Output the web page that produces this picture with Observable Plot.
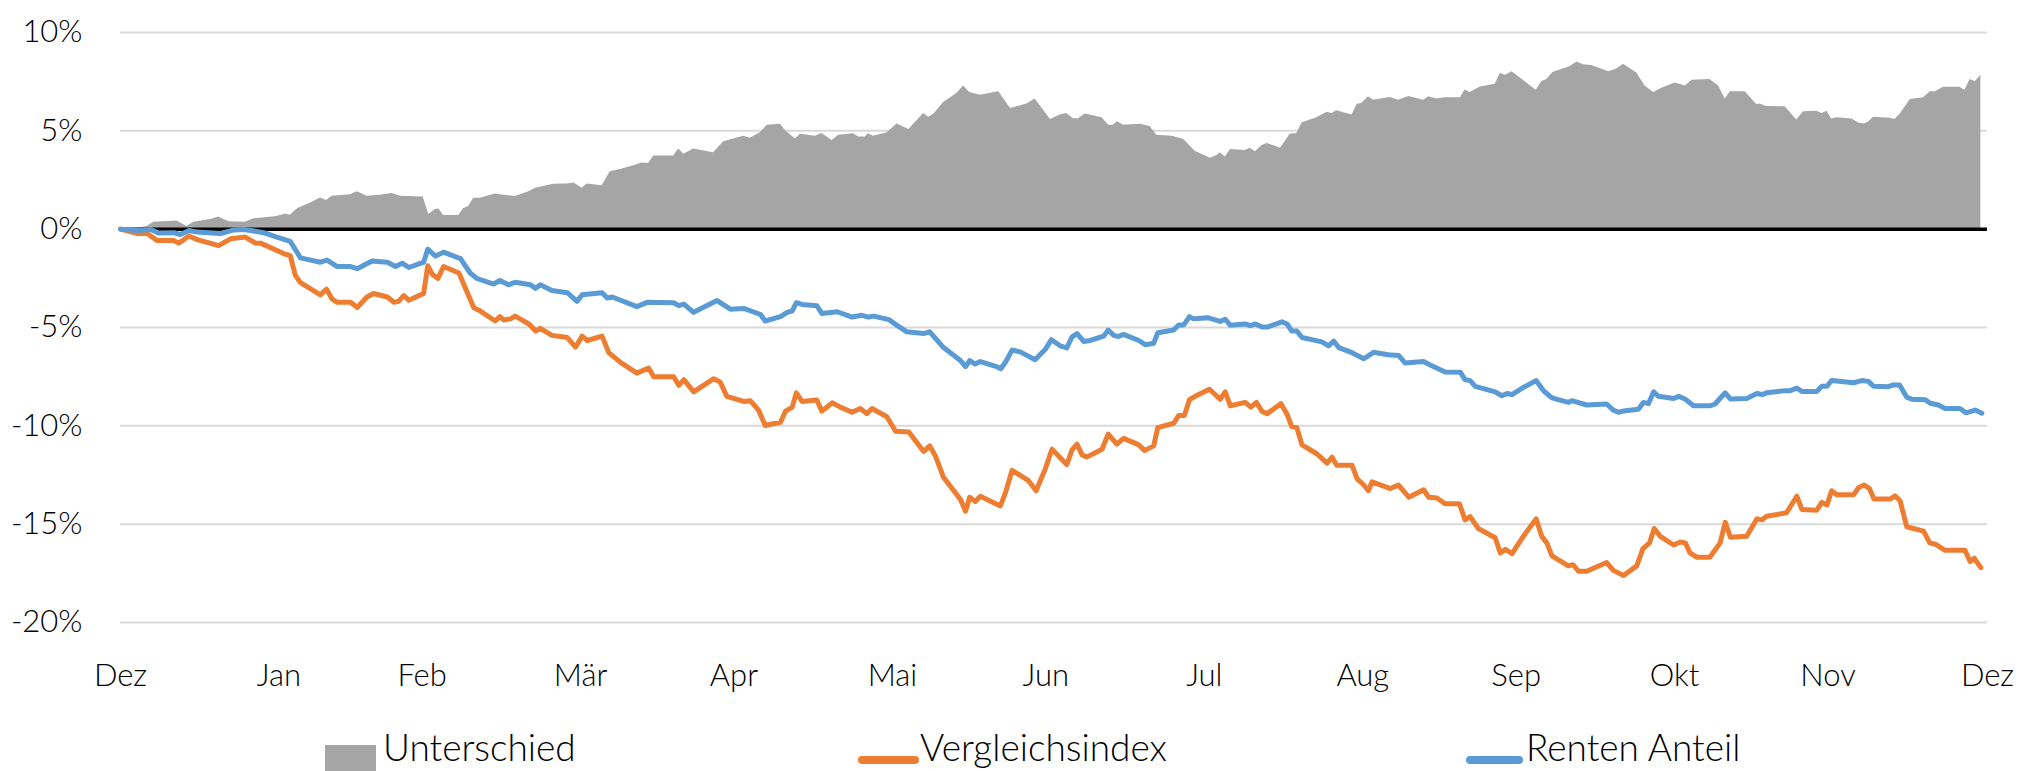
<!DOCTYPE html>
<html>
<head>
<meta charset="utf-8">
<script src="https://cdn.jsdelivr.net/npm/d3@7"></script>
<script src="https://cdn.jsdelivr.net/npm/@observablehq/plot@0.6"></script>
<style>
  html, body { margin: 0; padding: 0; background: #fff; overflow: hidden; }
  #chart svg { display: block; }
  #legend { display: block; }
</style>
</head>
<body>
<div id="chart"></div>
<svg id="legend" width="2018" height="71"></svg>
<script>
// x = days since 1 Dec 2021, y = percent
const yTicks = [-20, -15, -10, -5, 0, 5, 10];
const monthLabels = ["Dez","Jan","Feb","Mär","Apr","Mai","Jun","Jul","Aug","Sep","Okt","Nov","Dez"];
const monthPos = [0, 31, 59, 90, 120, 151, 181, 212, 243, 273, 304, 334, 365.2];
const seriesNames = ["Unterschied", "Vergleichsindex", "Renten Anteil"];

const unterschied = [[0,0],[3.3,0.05],[5.2,0.13],[6.5,0.35],[11.1,0.42],[13.0,0.13],[14.3,0.35],[17.6,0.49],[19.2,0.62],[21.2,0.38],[24.4,0.35],[26.1,0.53],[30.6,0.64],[32.3,0.77],[33.2,0.71],[34.6,1.04],[37.2,1.33],[39.1,1.59],[40.3,1.46],[41.4,1.68],[45.0,1.75],[46.3,1.90],[48.2,1.68],[50.8,1.73],[53.1,1.81],[54.8,1.68],[59.2,1.64],[60.3,0.75],[61.6,1.0],[62.3,1.02],[63.2,0.69],[66.2,0.69],[67.1,1.04],[68.1,1.15],[69.1,1.57],[70.4,1.57],[73.3,1.79],[75.0,1.73],[77.2,1.66],[79.9,1.90],[81.2,2.08],[84.7,2.28],[87.4,2.30],[88.7,2.35],[90.3,2.08],[91.3,2.30],[94.2,2.21],[95.8,2.92],[97.8,3.03],[100.4,3.23],[102.0,3.36],[103.3,3.34],[104.3,3.72],[108.2,3.72],[109.2,4.07],[110.2,3.81],[112.1,4.07],[116.0,3.89],[118.0,4.45],[121.9,4.73],[123.2,4.62],[125.2,4.91],[126.5,5.29],[129.1,5.33],[130.1,5.00],[132.0,4.58],[133.0,4.82],[135.9,4.73],[137.2,4.87],[139.2,4.51],[140.5,4.78],[143.4,4.85],[144.4,4.69],[145.7,4.69],[146.3,4.85],[147.3,4.73],[149.9,4.89],[151.9,5.35],[154.2,5.07],[157.1,5.88],[158.1,5.69],[159.1,5.84],[161.0,6.44],[163.6,6.90],[164.9,7.28],[166.1,6.95],[168.2,6.81],[171.8,6.99],[174.1,6.13],[177.3,6.37],[178.9,6.62],[180.2,6.17],[181.9,5.58],[183.8,5.80],[185.1,5.88],[186.4,5.62],[187.4,5.62],[188.7,5.86],[192.0,5.66],[193.3,5.29],[194.1,5.27],[195.0,5.46],[196.2,5.29],[199.5,5.33],[201.4,5.22],[202.7,4.78],[205.7,4.73],[208.0,4.56],[210.2,3.96],[213.2,3.61],[214.5,3.74],[215.1,3.89],[216.1,3.67],[217.1,4.05],[220.0,4.00],[221.0,4.12],[222.0,3.94],[223.3,4.25],[224.3,4.36],[226.9,4.12],[228.8,4.82],[230.1,4.87],[231.1,5.40],[234.0,5.66],[236.0,5.95],[237.0,5.88],[237.9,6.02],[240.9,5.80],[241.9,6.35],[242.8,6.39],[244.1,6.73],[245.1,6.55],[248.4,6.70],[250.0,6.55],[252.0,6.75],[254.9,6.55],[255.9,6.73],[257.5,6.62],[259.1,6.68],[262.1,6.68],[263.0,7.08],[264.0,6.95],[266.0,7.23],[268.9,7.37],[269.9,7.92],[270.9,7.83],[272.2,8.01],[274.4,7.57],[276.9,7.06],[278.0,7.50],[279.0,7.61],[280.2,7.96],[283.6,8.27],[284.9,8.50],[286.2,8.36],[287.8,8.32],[291.1,8.01],[292.7,8.14],[294.0,8.38],[296.6,7.94],[298.2,7.28],[299.9,6.95],[301.5,7.17],[304.1,7.43],[306.1,7.28],[307.4,7.57],[310.9,7.61],[312.6,7.28],[313.9,6.62],[314.9,6.99],[317.8,6.99],[320.1,6.33],[320.7,6.37],[322.0,6.24],[325.6,6.22],[327.9,5.55],[329.2,5.97],[331.8,6.00],[332.8,5.88],[333.8,6.00],[334.7,5.60],[335.7,5.66],[338.7,5.60],[340.0,5.40],[341.1,5.35],[341.9,5.44],[342.9,5.69],[346.2,5.64],[347.1,5.58],[348.1,5.84],[350.1,6.59],[352.7,6.68],[354.0,6.99],[355.0,6.99],[356.6,7.21],[359.8,7.21],[360.8,7.06],[361.8,7.61],[362.8,7.50],[363.9,7.83]];

const vergleichsindex = [[0,0],[3.3,-0.22],[5.2,-0.22],[7.2,-0.58],[10.4,-0.58],[11.4,-0.71],[13.4,-0.35],[15.0,-0.53],[19.2,-0.84],[21.5,-0.49],[24.4,-0.40],[26.4,-0.71],[27.4,-0.71],[31.9,-1.24],[33.2,-1.35],[34.2,-2.35],[35.2,-2.72],[39.1,-3.34],[40.3,-3.05],[41.4,-3.56],[42.4,-3.72],[45.0,-3.72],[46.3,-3.98],[48.2,-3.45],[49.5,-3.27],[52.2,-3.45],[53.5,-3.72],[54.4,-3.67],[55.4,-3.38],[56.4,-3.61],[59.3,-3.27],[60.1,-1.86],[61.0,-2.30],[62.1,-2.50],[63.2,-1.90],[66.2,-2.23],[69.1,-4.00],[70.1,-4.12],[73.3,-4.67],[74.2,-4.45],[75.0,-4.62],[76.3,-4.56],[77.2,-4.42],[79.9,-4.82],[81.2,-5.18],[82.1,-5.04],[84.4,-5.40],[87.4,-5.51],[89.0,-6.00],[90.3,-5.44],[91.3,-5.66],[94.2,-5.44],[95.5,-6.28],[97.8,-6.77],[101.0,-7.32],[103.3,-7.06],[104.3,-7.50],[108.2,-7.50],[109.2,-7.94],[110.2,-7.65],[112.1,-8.27],[116.0,-7.61],[117.3,-7.77],[118.6,-8.50],[121.9,-8.76],[123.2,-8.72],[124.8,-9.20],[126.1,-9.98],[129.1,-9.82],[130.1,-9.25],[131.4,-9.05],[132.2,-8.32],[133.3,-8.76],[136.2,-8.69],[137.2,-9.25],[139.2,-8.83],[140.8,-9.05],[143.1,-9.31],[144.7,-9.12],[146.0,-9.38],[147.0,-9.12],[149.9,-9.54],[151.6,-10.27],[154.2,-10.31],[157.1,-11.31],[158.3,-11.02],[159.4,-11.53],[161.0,-12.63],[164.3,-13.74],[165.3,-14.34],[166.1,-13.63],[167.2,-13.85],[168.2,-13.58],[172.1,-14.07],[173.1,-13.41],[174.4,-12.26],[177.6,-12.79],[179.1,-13.30],[180.9,-12.19],[182.2,-11.19],[185.1,-11.97],[186.1,-11.24],[187.1,-10.93],[188.1,-11.48],[189.0,-11.59],[192.0,-11.19],[193.2,-10.42],[194.9,-10.93],[196.2,-10.64],[199.2,-10.97],[200.3,-11.26],[202.1,-11.02],[202.9,-10.09],[206.0,-9.87],[207.0,-9.47],[208.1,-9.47],[209.1,-8.67],[210.2,-8.50],[213.0,-8.14],[215.1,-8.65],[216.1,-8.27],[217.1,-8.98],[220.0,-8.81],[221.1,-9.05],[222.2,-8.81],[223.3,-9.27],[224.3,-9.38],[227.0,-8.87],[228.2,-9.42],[229.1,-10.04],[230.1,-10.09],[231.1,-10.97],[234.0,-11.42],[236.0,-11.90],[237.0,-11.59],[237.9,-12.01],[240.9,-12.01],[241.9,-12.70],[243.2,-13.01],[244.1,-13.30],[244.8,-12.85],[248.4,-13.19],[250.0,-13.01],[252.0,-13.63],[254.9,-13.25],[255.9,-13.63],[257.5,-13.67],[259.1,-13.96],[261.9,-13.96],[263.0,-14.78],[264.0,-14.62],[265.6,-15.22],[268.9,-15.69],[269.9,-16.46],[270.9,-16.28],[272.2,-16.50],[274.4,-15.62],[276.9,-14.73],[278.0,-15.62],[279.0,-15.95],[280.0,-16.61],[283.2,-17.12],[284.1,-17.06],[285.2,-17.39],[286.8,-17.39],[290.7,-16.95],[292.0,-17.35],[294.0,-17.61],[296.6,-17.12],[297.8,-16.24],[299.1,-15.95],[300.0,-15.22],[301.2,-15.62],[303.8,-16.06],[305.1,-15.91],[306.1,-15.95],[307.0,-16.46],[308.3,-16.68],[310.9,-16.68],[312.9,-15.95],[313.9,-14.91],[314.9,-15.66],[318.1,-15.62],[320.1,-14.73],[321.1,-14.78],[322.0,-14.60],[325.9,-14.42],[327.9,-13.58],[328.9,-14.25],[331.8,-14.29],[332.8,-13.89],[333.8,-14.03],[334.7,-13.30],[335.7,-13.50],[339.0,-13.50],[340.0,-13.14],[341.1,-13.01],[342.1,-13.19],[343.0,-13.72],[346.2,-13.72],[347.1,-13.56],[348.1,-13.81],[349.4,-15.13],[352.7,-15.35],[353.9,-15.95],[355.0,-16.02],[356.9,-16.33],[360.8,-16.33],[361.8,-16.90],[362.6,-16.73],[363.9,-17.21]];

const rentenAnteil = [[0,0],[3.3,-0.07],[5.9,-0.02],[7.5,-0.20],[10.4,-0.18],[11.7,-0.27],[13.4,-0.07],[15.0,-0.15],[19.6,-0.22],[22.2,-0.04],[24.1,-0.02],[26.1,-0.09],[28.0,-0.18],[30.6,-0.40],[33.2,-0.62],[35.2,-1.46],[39.1,-1.68],[40.4,-1.57],[42.4,-1.90],[45.0,-1.90],[46.3,-2.01],[49.2,-1.62],[52.2,-1.68],[53.8,-1.90],[55.1,-1.73],[56.4,-1.95],[59.3,-1.68],[60.1,-1.02],[61.6,-1.37],[63.2,-1.17],[66.5,-1.50],[68.4,-2.23],[69.8,-2.52],[73.0,-2.79],[74.2,-2.61],[75.9,-2.83],[77.2,-2.70],[80.2,-2.83],[81.2,-3.01],[82.1,-2.83],[84.4,-3.12],[87.4,-3.23],[89.3,-3.67],[90.3,-3.34],[94.2,-3.23],[95.2,-3.50],[96.2,-3.45],[101.0,-3.94],[103.0,-3.72],[108.2,-3.74],[109.2,-3.89],[110.2,-3.81],[112.1,-4.23],[116.7,-3.63],[119.3,-4.07],[121.9,-4.03],[125.2,-4.34],[126.1,-4.67],[129.1,-4.45],[130.4,-4.23],[131.4,-4.16],[132.2,-3.74],[133.3,-3.83],[136.2,-3.89],[137.2,-4.29],[138.5,-4.25],[140.2,-4.20],[143.1,-4.47],[145.0,-4.38],[146.3,-4.47],[147.3,-4.42],[150.3,-4.60],[151.9,-4.89],[153.8,-5.22],[157.1,-5.31],[158.3,-5.22],[161.0,-6.02],[164.3,-6.68],[165.3,-6.99],[166.1,-6.68],[167.2,-6.86],[168.2,-6.73],[171.4,-6.99],[172.2,-7.10],[173.1,-6.77],[174.4,-6.15],[176.0,-6.24],[178.9,-6.64],[180.9,-6.11],[182.1,-5.62],[183.8,-5.93],[185.1,-6.04],[186.1,-5.49],[187.1,-5.31],[188.4,-5.71],[189.7,-5.66],[192.3,-5.44],[193.2,-5.13],[194.3,-5.40],[195.2,-5.46],[196.2,-5.35],[199.2,-5.66],[200.5,-5.88],[202.1,-5.80],[202.9,-5.27],[206.0,-5.13],[207.0,-4.87],[208.0,-4.87],[209.1,-4.45],[209.9,-4.56],[212.8,-4.51],[215.1,-4.69],[216.1,-4.58],[217.1,-4.89],[220.0,-4.82],[221.0,-4.91],[222.0,-4.82],[223.3,-4.98],[224.3,-4.98],[227.2,-4.71],[228.2,-4.82],[229.1,-5.18],[230.1,-5.18],[231.1,-5.51],[235.0,-5.73],[236.3,-5.93],[237.3,-5.69],[238.3,-6.02],[240.9,-6.28],[243.2,-6.59],[244.5,-6.37],[245.1,-6.26],[248.0,-6.39],[250.0,-6.42],[251.3,-6.81],[254.9,-6.73],[256.5,-6.95],[259.1,-7.26],[262.1,-7.28],[263.0,-7.65],[264.0,-7.70],[265.0,-7.99],[268.9,-8.27],[270.2,-8.47],[271.2,-8.36],[272.2,-8.41],[274.4,-8.05],[276.9,-7.70],[278.4,-8.23],[280.0,-8.58],[283.2,-8.81],[283.9,-8.72],[286.8,-8.94],[290.7,-8.89],[292.0,-9.20],[293.0,-9.31],[294.0,-9.25],[296.9,-9.16],[297.9,-8.81],[298.9,-8.87],[299.9,-8.27],[300.8,-8.50],[303.8,-8.61],[304.8,-8.50],[306.1,-8.65],[307.7,-8.98],[310.9,-8.98],[311.9,-8.89],[313.9,-8.32],[314.9,-8.63],[318.1,-8.61],[320.1,-8.36],[321.1,-8.41],[322.0,-8.32],[325.6,-8.21],[326.6,-8.21],[327.9,-8.08],[328.9,-8.25],[331.8,-8.25],[332.8,-7.99],[333.8,-7.99],[334.7,-7.70],[339.0,-7.81],[340.6,-7.70],[341.9,-7.74],[342.9,-7.99],[345.8,-8.01],[346.8,-7.92],[348.0,-7.92],[349.4,-8.54],[350.4,-8.65],[353.0,-8.67],[354.0,-8.85],[355.6,-8.94],[356.9,-9.12],[359.8,-9.12],[361.0,-9.34],[362.8,-9.20],[364.1,-9.36]];

const colors = {"Unterschied": "#a5a5a5", "Vergleichsindex": "#ed7d31", "Renten Anteil": "#5b9bd5"};

const toRows = (arr) => arr.map(([day, value]) => ({day, value}));
const diffRows = toRows(unterschied);
const idxRows = toRows(vergleichsindex);
const rentRows = toRows(rentenAnteil);
const labelAt = new Map(monthPos.map((p, i) => [p, monthLabels[i]]));

const FONT = "Lato, 'Open Sans', sans-serif";

const chart = Plot.plot({
  width: 2018,
  height: 700,
  marginTop: 32,
  marginBottom: 78,
  marginLeft: 120,
  marginRight: 31,
  style: {fontFamily: FONT, fontSize: "31px", fontWeight: 300, color: "#000", background: "#fff", overflow: "visible"},
  x: {domain: [0, 365.2]},
  y: {domain: [-20, 10]},
  marks: [
    Plot.gridY(yTicks, {stroke: "#d9d9d9", strokeWidth: 2, strokeOpacity: 1}),
    Plot.areaY(diffRows, {x: "day", y: "value", fill: colors["Unterschied"], fillOpacity: 1}),
    Plot.ruleY([0], {stroke: "#000", strokeWidth: 3.5}),
    Plot.lineY(idxRows, {x: "day", y: "value", stroke: colors["Vergleichsindex"], strokeWidth: 5, strokeLinejoin: "round", strokeLinecap: "round"}),
    Plot.lineY(rentRows, {x: "day", y: "value", stroke: colors["Renten Anteil"], strokeWidth: 5, strokeLinejoin: "round", strokeLinecap: "round"}),
    Plot.axisY(yTicks, {tickSize: 0, tickPadding: 38, tickFormat: d => d + "%", label: null, fill: "#000"}),
    Plot.axisX(monthPos, {tickSize: 0, tickPadding: 41, tickFormat: d => labelAt.get(d), label: null, fill: "#000"})
  ]
});
document.getElementById("chart").appendChild(chart);

// Legend below the chart (svg starts at page y = 700)
const leg = d3.select("#legend").style("font-family", FONT).style("font-weight", 300);
const base = 61; // text baseline within legend svg
const fs = 37;
leg.append("rect").attr("x", 325).attr("y", 45).attr("width", 51).attr("height", 26).attr("fill", colors[seriesNames[0]]);
leg.append("text").attr("x", 383).attr("y", base).attr("font-size", fs).attr("fill", "#000").text(seriesNames[0]);
leg.append("line").attr("x1", 862).attr("x2", 915).attr("y1", 60).attr("y2", 60).attr("stroke", colors[seriesNames[1]]).attr("stroke-width", 8).attr("stroke-linecap", "round");
leg.append("text").attr("x", 920).attr("y", base).attr("font-size", fs).attr("fill", "#000").text(seriesNames[1]);
leg.append("line").attr("x1", 1470).attr("x2", 1519).attr("y1", 60).attr("y2", 60).attr("stroke", colors[seriesNames[2]]).attr("stroke-width", 8).attr("stroke-linecap", "round");
leg.append("text").attr("x", 1526).attr("y", base).attr("font-size", fs).attr("fill", "#000").text(seriesNames[2]);
</script>
</body>
</html>
